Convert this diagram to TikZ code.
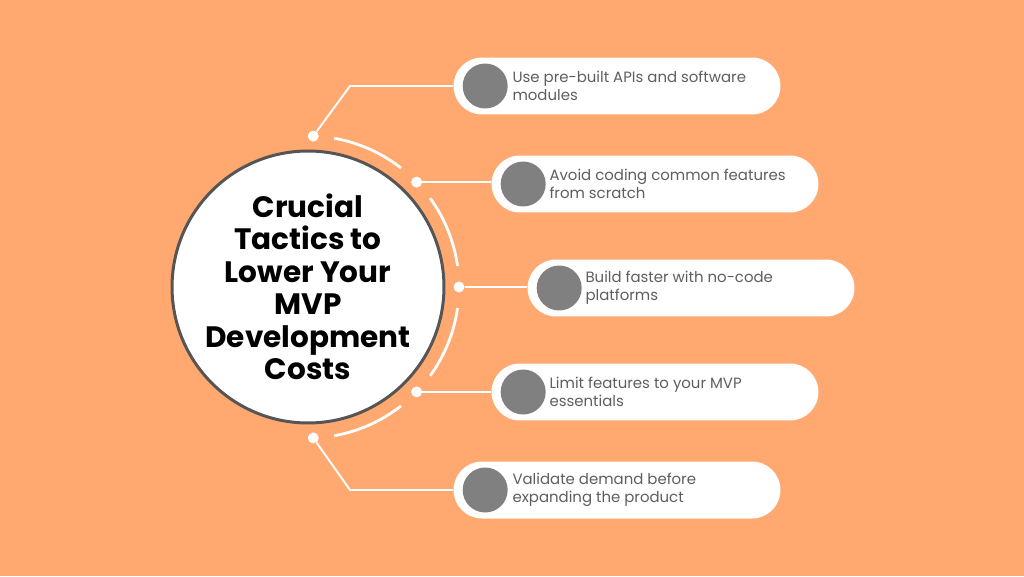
\documentclass[tikz,border=0pt]{standalone}
\usepackage{fontspec}
\setmainfont{Poppins}
\usetikzlibrary{positioning,calc}
\definecolor{bgorange}{HTML}{FFA870}
\definecolor{hubrim}{HTML}{555555}
\definecolor{knobgray}{HTML}{808080}
\definecolor{txtgray}{HTML}{5E5E5E}

\begin{document}
\begin{tikzpicture}[
  x=0.02cm, y=0.02cm,
  hub/.style={circle, draw=hubrim, line width=1.7pt, fill=white, minimum size=5.44cm, inner sep=0pt},
  title/.style={align=center, font=\fontsize{16.8}{18.5}\selectfont\bfseries, text=black},
  pill/.style={fill=white, rounded corners=0.57cm, minimum width=6.54cm, minimum height=1.14cm, inner sep=0pt},
  knob/.style={circle, fill=knobgray, minimum size=0.9cm, inner sep=0pt},
  pilltext/.style={anchor=west, align=left, inner sep=0pt, text=txtgray, font=\fontsize{8.5}{10.2}\selectfont},
  joint/.style={circle, fill=white, minimum size=0.22cm, inner sep=0pt},
  link/.style={white, line width=1.1pt},
  ring/.style={white, line width=1.6pt},
]

\fill[bgorange] (0,0) rectangle (1024,576);
\useasboundingbox (0,0) rectangle (1024,576);

% centre
\coordinate (c) at (308,289);

% ring pieces between the joints
\draw[ring] ($(c)+(80:151)$) arc[start angle=80, end angle=52, radius=151];
\draw[ring] ($(c)+(36:151)$) arc[start angle=36, end angle=8, radius=151];
\draw[ring] ($(c)+(-8:151)$) arc[start angle=-8, end angle=-36, radius=151];
\draw[ring] ($(c)+(-52:151)$) arc[start angle=-52, end angle=-80, radius=151];

% pills
\node[pill] (p1) at (617,490) {};
\node[pill] (p2) at (655,392) {};
\node[pill] (p3) at (691,288) {};
\node[pill] (p4) at (655,184) {};
\node[pill] (p5) at (617,86) {};

% joints on the ring
\foreach \a [count=\i] in {88,44,0,-44,-88}
  \node[joint] (d\i) at ($(c)+(\a:151)$) {};

\coordinate (k1) at (350,490);
\coordinate (k5) at (350,86);
\draw[link] (d1) -- (k1) -- (p1.west);
\draw[link] (d2) -- (d2 -| p2.west);
\draw[link] (d3) -- (d3 -| p3.west);
\draw[link] (d4) -- (d4 -| p4.west);
\draw[link] (d5) -- (k5) -- (p5.west);

\foreach \i in {1,...,5}
  \node[knob] (g\i) at ($(p\i.west)+(32,0)$) {};

\node[pilltext] (t1) at ($(p1.west)+(59,0)$) {Use pre-built APIs and software\\modules};
\node[pilltext] (t2) at ($(p2.west)+(58,0)$) {Avoid coding common features\\from scratch};
\node[pilltext] (t3) at ($(p3.west)+(58,0)$) {Build faster with no-code\\platforms};
\node[pilltext] (t4) at ($(p4.west)+(58,0)$) {Limit features to your MVP\\essentials};
\node[pilltext] (t5) at ($(p5.west)+(59,0)$) {Validate demand before\\expanding the product};

% hub
\node[hub] (hub) at (c) {};
\node[title] (ttl) at (c) {Crucial\\Tactics to\\Lower Your\\MVP\\Development\\Costs};

\end{tikzpicture}
\end{document}
